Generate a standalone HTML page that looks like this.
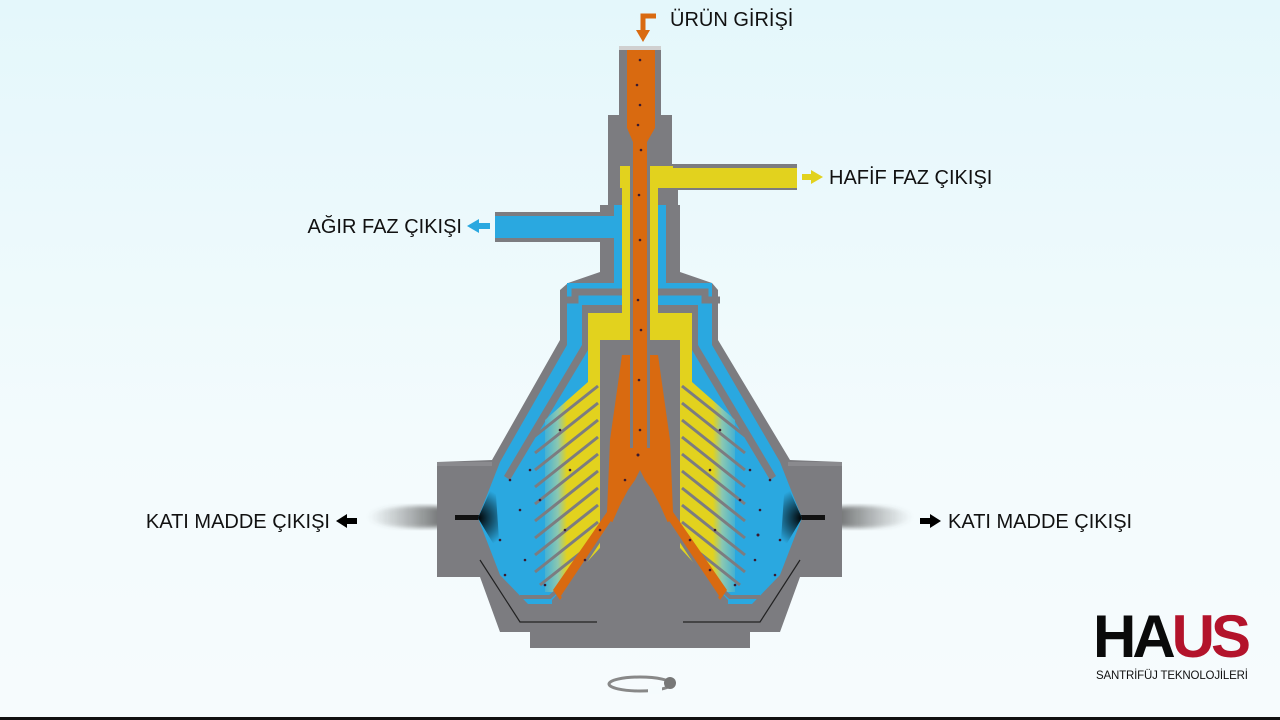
<!DOCTYPE html>
<html><head><meta charset="utf-8"><style>
html,body{margin:0;padding:0;width:1280px;height:720px;overflow:hidden;background:linear-gradient(#e4f7fb,#f3fbfd 60%,#f6fbfd);}
svg{position:absolute;left:0;top:0}
text{font-family:"Liberation Sans",sans-serif;}
</style></head><body>
<svg width="1280" height="720" viewBox="0 0 1280 720">
<defs>
<linearGradient id="yl" gradientUnits="userSpaceOnUse" x1="540" x2="600"><stop offset="0" stop-color="#2aa8e0"/><stop offset="0.3" stop-color="#8cc8b0"/><stop offset="0.45" stop-color="#e2d21e"/><stop offset="1" stop-color="#e2d21e"/></linearGradient>
<linearGradient id="yr" gradientUnits="userSpaceOnUse" x1="740" x2="680"><stop offset="0" stop-color="#2aa8e0"/><stop offset="0.3" stop-color="#8cc8b0"/><stop offset="0.45" stop-color="#e2d21e"/><stop offset="1" stop-color="#e2d21e"/></linearGradient>
<radialGradient id="nl" cx="478" cy="518" r="30" gradientUnits="userSpaceOnUse"><stop offset="0" stop-color="#000"/><stop offset="1" stop-color="#000" stop-opacity="0"/></radialGradient>
<radialGradient id="nr" cx="802" cy="518" r="30" gradientUnits="userSpaceOnUse"><stop offset="0" stop-color="#000"/><stop offset="1" stop-color="#000" stop-opacity="0"/></radialGradient>
<linearGradient id="sl" x1="0" x2="1"><stop offset="0" stop-color="#555" stop-opacity="0"/><stop offset="1" stop-color="#333"/></linearGradient>
<linearGradient id="sr" x1="1" x2="0"><stop offset="0" stop-color="#555" stop-opacity="0"/><stop offset="1" stop-color="#333"/></linearGradient>
<filter id="bl"><feGaussianBlur stdDeviation="2"/></filter>
</defs>

<ellipse cx="420" cy="517" rx="52" ry="11" fill="url(#sl)" filter="url(#bl)"/>
<ellipse cx="860" cy="517" rx="52" ry="11" fill="url(#sr)" filter="url(#bl)"/>

<polygon fill="#7c7c80" points="619,46 661,46 661,115 672,115 672,164 797,164 797,190 678,190 678,205 680,205 680,272 712,283 718,290 718,340 790,460 842,462 842,577 800,577 780,632 750,632 750,648 530,648 530,632 500,632 480,577 437,577 437,462 492,460 560,340 560,290 568,283 600,272 600,242 495,242 495,212 600,212 600,205 608,205 608,115 619,115"/>
<rect x="437" y="462" width="55" height="4" fill="#8a8a8e"/>
<rect x="788" y="462" width="54" height="4" fill="#8a8a8e"/>
<rect x="455" y="515" width="25" height="5" fill="#111"/>
<rect x="800" y="515" width="25" height="5" fill="#111"/>

<rect x="495" y="216" width="128" height="22" fill="#2aa8e0"/>
<rect x="614" y="205" width="52" height="85" fill="#2aa8e0"/>
<polygon fill="#2aa8e0" points="567,283 712,283 712,345 780,462 802,518 780,575 752,604 528,604 500,575 478,518 500,462 567,345"/>
<polygon fill="url(#nl)" points="478,518 495,480 500,555"/>
<polygon fill="url(#nr)" points="802,518 785,480 780,555"/>

<polyline points="560,300 575,300 575,292 622,292" fill="none" stroke="#7c7c80" stroke-width="7"/>
<polyline points="720,300 705,300 705,292 658,292" fill="none" stroke="#7c7c80" stroke-width="7"/>
<polygon fill="#7c7c80" points="582,305 698,305 698,345 776,476 770,480 692,350 588,350 510,480 504,476 582,345"/>
<!-- yellow -->
<rect x="620" y="166" width="53" height="22" fill="#e2d21e"/>
<rect x="673" y="168" width="124" height="20" fill="#e2d21e"/>
<rect x="622" y="166" width="36" height="150" fill="#e2d21e"/>
<polygon fill="url(#yl)" points="588,313 640,313 640,340 600,340 600,548 560,592 545,592 545,420 588,382"/>
<polygon fill="url(#yr)" points="640,313 692,313 692,382 735,420 735,592 720,592 680,548 680,340 640,340"/>
<!-- central gray -->
<polygon fill="#7c7c80" points="600,340 680,340 680,548 728,600 728,632 552,632 552,600 600,548"/>
<g stroke="#7c7c80" stroke-width="3">
<line x1="598" y1="386" x2="535" y2="436"/><line x1="598" y1="403" x2="535" y2="453"/><line x1="598" y1="420" x2="535" y2="470"/><line x1="598" y1="437" x2="535" y2="487"/><line x1="598" y1="454" x2="535" y2="504"/><line x1="598" y1="471" x2="535" y2="521"/><line x1="598" y1="488" x2="535" y2="538"/><line x1="598" y1="505" x2="535" y2="555"/><line x1="598" y1="522" x2="535" y2="572"/><line x1="598" y1="539" x2="540" y2="585"/>
<line x1="682" y1="386" x2="745" y2="436"/><line x1="682" y1="403" x2="745" y2="453"/><line x1="682" y1="420" x2="745" y2="470"/><line x1="682" y1="437" x2="745" y2="487"/><line x1="682" y1="454" x2="745" y2="504"/><line x1="682" y1="471" x2="745" y2="521"/><line x1="682" y1="488" x2="745" y2="538"/><line x1="682" y1="505" x2="745" y2="555"/><line x1="682" y1="522" x2="745" y2="572"/><line x1="682" y1="539" x2="740" y2="585"/>
</g>
<polyline points="520,597 550,597 560,588" fill="none" stroke="#7c7c80" stroke-width="4"/>
<polyline points="760,597 730,597 720,588" fill="none" stroke="#7c7c80" stroke-width="4"/>
<!-- orange tube -->
<rect x="630" y="130" width="20" height="325" fill="#7c7c80"/>
<polygon fill="#d96a10" points="627,48 655,48 655,128 647,142 647,450 633,450 633,142 627,128"/>
<rect x="619" y="46" width="42" height="4" fill="#d0d0d0"/>
<polygon fill="#d96a10" points="622,355 630,355 630,448 650,448 650,355 658,355 670,440 673,512 727,590 720,600 668,523 660,505 652,490 645,480 640,470 635,480 628,490 620,505 612,523 560,600 553,590 607,512 610,440"/>
<line x1="612" y1="522" x2="562" y2="597" stroke="#7c7c80" stroke-width="3"/>
<line x1="668" y1="522" x2="718" y2="597" stroke="#7c7c80" stroke-width="3"/>
<polyline points="480,560 520,622 597,622" fill="none" stroke="#222" stroke-width="1.2"/>
<polyline points="800,560 760,622 683,622" fill="none" stroke="#222" stroke-width="1.2"/>
<g fill="#3a1a30">
<circle cx="640" cy="60" r="1.3"/><circle cx="637" cy="85" r="1.3"/><circle cx="640" cy="105" r="1.3"/><circle cx="638" cy="125" r="1.3"/><circle cx="641" cy="150" r="1.3"/><circle cx="639" cy="195" r="1.3"/><circle cx="640" cy="240" r="1.3"/><circle cx="638" cy="300" r="1.3"/><circle cx="641" cy="330" r="1.3"/><circle cx="639" cy="380" r="1.3"/><circle cx="640" cy="430" r="1.3"/><circle cx="638" cy="455" r="1.5"/><circle cx="625" cy="480" r="1.3"/><circle cx="600" cy="530" r="1.3"/><circle cx="585" cy="560" r="1.3"/><circle cx="690" cy="540" r="1.3"/><circle cx="710" cy="570" r="1.3"/>
<circle cx="510" cy="480" r="1.3"/><circle cx="520" cy="510" r="1.3"/><circle cx="500" cy="540" r="1.3"/><circle cx="530" cy="470" r="1.3"/><circle cx="525" cy="560" r="1.3"/><circle cx="540" cy="500" r="1.3"/><circle cx="505" cy="575" r="1.3"/><circle cx="560" cy="430" r="1.3"/><circle cx="570" cy="470" r="1.3"/><circle cx="565" cy="530" r="1.3"/><circle cx="545" cy="585" r="1.3"/>
<circle cx="770" cy="480" r="1.3"/><circle cx="760" cy="510" r="1.3"/><circle cx="780" cy="540" r="1.3"/><circle cx="750" cy="470" r="1.3"/><circle cx="755" cy="560" r="1.3"/><circle cx="740" cy="500" r="1.3"/><circle cx="775" cy="575" r="1.3"/><circle cx="720" cy="430" r="1.3"/><circle cx="710" cy="470" r="1.3"/><circle cx="715" cy="530" r="1.3"/><circle cx="735" cy="585" r="1.3"/><circle cx="758" cy="535" r="1.5"/>
</g>
<path d="M656,16 L643,16 L643,31" fill="none" stroke="#d96a10" stroke-width="5"/>
<polygon points="636,30 650,30 643,42" fill="#d96a10"/>
<rect x="802" y="174" width="10" height="6" fill="#e2d21e"/><polygon points="811,170 823,177 811,184" fill="#e2d21e"/>
<rect x="478" y="223" width="12" height="6" fill="#2aa8e0"/><polygon points="479,219 467,226 479,233" fill="#2aa8e0"/>
<rect x="346" y="518" width="11" height="6" fill="#000"/><polygon points="347,514 336,521 347,528" fill="#000"/>
<rect x="920" y="518" width="11" height="6" fill="#000"/><polygon points="930,514 941,521 930,528" fill="#000"/>
<g font-size="20" fill="#111">
<text x="670" y="26">ÜRÜN GİRİŞİ</text>
<text x="829" y="184">HAFİF FAZ ÇIKIŞI</text>
<text x="462" y="233" text-anchor="end">AĞIR FAZ ÇIKIŞI</text>
<text x="330" y="528" text-anchor="end">KATI MADDE ÇIKIŞI</text>
<text x="948" y="528">KATI MADDE ÇIKIŞI</text>
</g>
<ellipse cx="640" cy="684" rx="31" ry="7" fill="none" stroke="#888" stroke-width="3"/>
<rect x="648" y="686" width="14" height="8" fill="#f5fbfd"/>
<circle cx="670" cy="683" r="6" fill="#777"/>
<text x="1093" y="657" font-size="60" font-weight="bold" letter-spacing="-4" fill="#0a0a0a">HA<tspan fill="#b3132b">US</tspan></text>
<text x="1096" y="679" font-size="11.5" fill="#111" textLength="152">SANTRİFÜJ TEKNOLOJİLERİ</text>
<rect x="0" y="717" width="1280" height="3" fill="#111"/>
</svg>
</body></html>
